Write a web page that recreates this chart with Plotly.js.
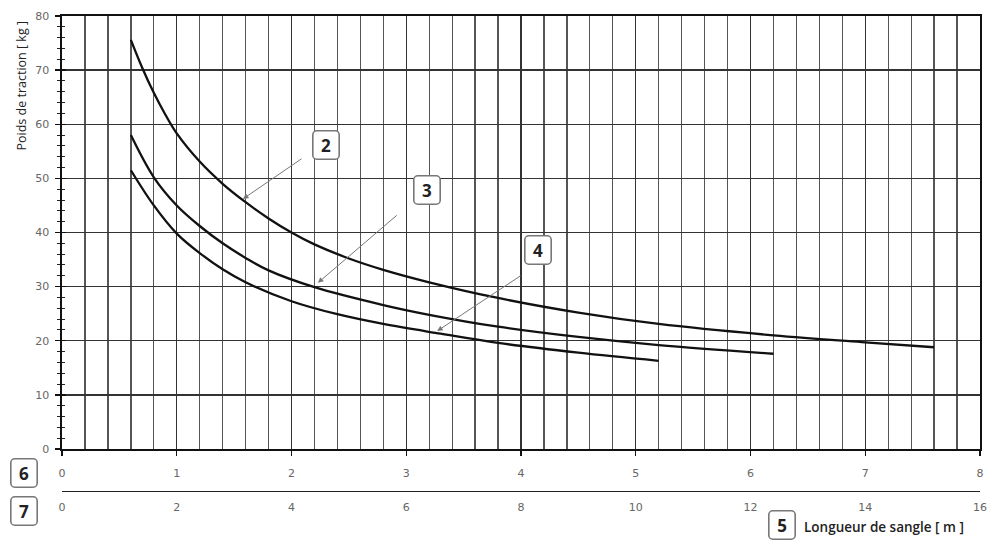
<!DOCTYPE html>
<html>
<head>
<meta charset="utf-8">
<script src="https://cdn.plot.ly/plotly-3.0.1.min.js"></script>
<style>
  html, body { margin: 0; padding: 0; background: #fff; }
  #chart { width: 987px; height: 540px; }
</style>
</head>
<body>
<div id="chart"></div>
<script>
// Curve 2 (top)
const curve2X = [0.6, 0.7, 0.8, 0.9, 1.0, 1.2, 1.4, 1.6, 1.8, 2.0, 2.2, 2.5, 2.8, 3.2, 3.8, 4.5, 5.2, 6.2, 7.0, 7.6];
const curve2Y = [75.6, 70.4, 65.8, 61.8, 58.3, 53.1, 49.0, 45.6, 42.6, 40.0, 37.8, 35.2, 33.1, 30.8, 27.9, 25.2, 23.1, 21.0, 19.7, 18.8];

// Curve 3 (middle)
const curve3X = [0.6, 0.8, 1.0, 1.2, 1.4, 1.6, 1.8, 2.2, 2.8, 3.2, 3.8, 4.5, 5.2, 6.2];
const curve3Y = [58.0, 50.2, 45.0, 41.2, 38.0, 35.3, 33.0, 29.9, 26.6, 24.8, 22.6, 20.7, 19.2, 17.6];

// Curve 4 (bottom)
const curve4X = [0.6, 0.8, 1.0, 1.2, 1.4, 1.6, 2.0, 2.4, 2.8, 3.3, 3.8, 4.5, 5.2];
const curve4Y = [51.5, 45.0, 39.8, 36.2, 33.2, 30.8, 27.3, 24.9, 23.1, 21.3, 19.6, 17.8, 16.3];

// Axis ticks
const yTicks = [0, 10, 20, 30, 40, 50, 60, 70, 80];
const axis6Ticks = [0, 1, 2, 3, 4, 5, 6, 7, 8];
const axis7Ticks = [0, 2, 4, 6, 8, 10, 12, 14, 16];

// Callout labels: [label, box x, box y, arrow head x, head y, tail x, tail y]
const callouts = [
    ['2', 2.30, 56.2, 1.577, 46.2, 2.10, 53.8],
    ['3', 3.18, 47.9, 2.23, 30.7, 2.93, 43.4],
    ['4', 4.15, 36.8, 3.27, 21.8, 4.01, 32.2]
];

const labelFont = { family: 'DejaVu Sans, sans-serif', size: 11, color: '#666' };
const boxFont = { family: 'Open Sans, sans-serif', size: 17, color: '#222', weight: 'bold' };

const curveLine = { color: '#111', width: 2.3, shape: 'spline', smoothing: 1 };

const traces = [
    { x: curve2X, y: curve2Y, type: 'scatter', mode: 'lines', line: curveLine, hoverinfo: 'skip' },
    { x: curve3X, y: curve3Y, type: 'scatter', mode: 'lines', line: curveLine, hoverinfo: 'skip' },
    { x: curve4X, y: curve4Y, type: 'scatter', mode: 'lines', line: curveLine, hoverinfo: 'skip' },
    // keeps the second x scale and the inner tick axis alive
    { x: [axis7Ticks[0], axis7Ticks[axis7Ticks.length - 1]], y: [null, null], xaxis: 'x2', yaxis: 'y2',
      type: 'scatter', mode: 'lines', hoverinfo: 'skip' }
];

function boxNote(text, x, y, ref) {
    return {
        x: x, y: y, xref: ref ? ref : 'x', yref: ref ? ref : 'y',
        xanchor: 'center', yanchor: 'middle',
        text: text, showarrow: false, font: boxFont,
        width: 19, height: 21, borderpad: 3,
        bgcolor: '#fff', bordercolor: '#777', borderwidth: 1.6
    };
}

const annotations = [];

callouts.forEach(([label, bx, by, hx, hy, tx, ty]) => {
    annotations.push({
        x: hx, y: hy, ax: tx, ay: ty, xref: 'x', yref: 'y', axref: 'x', ayref: 'y',
        text: '', showarrow: true, arrowhead: 2, arrowsize: 1.1, arrowwidth: 1,
        arrowcolor: '#777'
    });
    annotations.push(boxNote(label, bx, by));
});

annotations.push(
    { x: -0.0436, y: 0.862, xref: 'paper', yref: 'paper', xanchor: 'center', yanchor: 'middle',
      text: 'Poids de traction [ kg ]', textangle: -90, showarrow: false,
      font: { family: 'Open Sans, sans-serif', size: 12.5, color: '#222' } },
    boxNote('6', -0.0414, 0.0933, 'paper'),
    boxNote('7', -0.0414, 0.0179, 'paper'),
    boxNote('5', 0.784, -0.0099, 'paper'),
    { x: 0.806, y: -0.0139, xref: 'paper', yref: 'paper', xanchor: 'left', yanchor: 'middle',
      text: 'Longueur de sangle [ m ]', showarrow: false,
      font: { family: 'Open Sans, sans-serif', size: 13.5, color: '#222', weight: 600 } }
);

const layout = {
    width: 987,
    height: 540,
    paper_bgcolor: '#fff',
    plot_bgcolor: '#fff',
    margin: { t: 16, r: 7, b: 20, l: 62 },
    showlegend: false,
    font: labelFont,
    xaxis: {
        range: [0, 8],
        tickvals: axis6Ticks,
        ticks: 'outside', ticklen: 5, tickcolor: '#111', tickwidth: 1.3,
        ticklabelstandoff: 8,
        tickfont: labelFont,
        showgrid: true, gridcolor: '#333', gridwidth: 1.4,
        minor: { dtick: 0.2, showgrid: true, gridcolor: '#555', gridwidth: 1.3 },
        showline: true, linecolor: '#111', linewidth: 1.6, mirror: true,
        zeroline: false, fixedrange: true
    },
    xaxis2: {
        overlaying: 'x',
        anchor: 'free',
        position: 0.0585,
        range: [0, 16],
        tickvals: axis7Ticks,
        ticks: '',
        ticklabelstandoff: 6,
        tickfont: labelFont,
        showgrid: false,
        showline: true, linecolor: '#222', linewidth: 1.3,
        zeroline: false, fixedrange: true
    },
    yaxis: {
        domain: [0.1409, 1],
        range: [0, 80],
        tickvals: yTicks,
        ticks: 'outside', ticklen: 5, tickcolor: '#111', tickwidth: 1.3,
        ticklabelstandoff: 4,
        tickfont: labelFont,
        minor: { dtick: 2, ticks: 'outside', ticklen: 3, tickcolor: '#222', tickwidth: 1 },
        showgrid: true, gridcolor: '#333', gridwidth: 1.4,
        showline: true, linecolor: '#111', linewidth: 1.6, mirror: true,
        zeroline: false, fixedrange: true
    },
    yaxis2: {
        overlaying: 'y',
        anchor: 'x',
        side: 'left',
        range: [0, 80],
        tickvals: yTicks,
        ticks: 'inside', ticklen: 4, tickcolor: '#111', tickwidth: 1.3,
        minor: { dtick: 2, ticks: 'inside', ticklen: 3, tickcolor: '#222', tickwidth: 1 },
        showticklabels: false, showgrid: false, showline: false,
        zeroline: false, fixedrange: true
    },
    annotations: annotations
};

Plotly.newPlot('chart', traces, layout, { displayModeBar: false, staticPlot: true }).then(() => {
    // the callout boxes have rounded corners
    document.querySelectorAll('.annotation rect.bg').forEach(r => {
        r.setAttribute('rx', 4);
        r.setAttribute('ry', 4);
    });
});
</script>
</body>
</html>
